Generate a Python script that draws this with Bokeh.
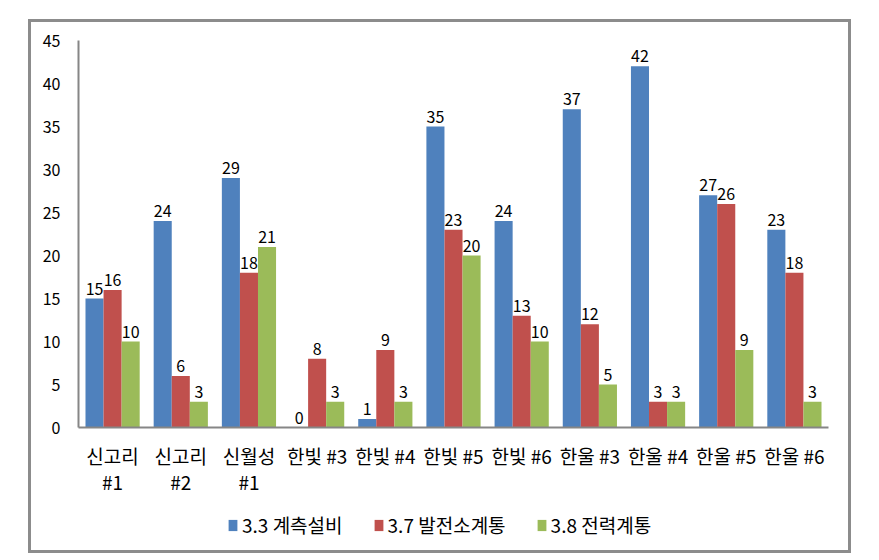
from bokeh.plotting import figure
from bokeh.layouts import column
from bokeh.models import (ColumnDataSource, FactorRange, Range1d, LabelSet, Legend,
                          LegendItem, FixedTicker, InlineStyleSheet)
from bokeh.core.properties import value
from bokeh.transform import dodge
from bokeh.embed import file_html
from bokeh.resources import INLINE

categories = ["신고리\n#1", "신고리\n#2", "신월성\n#1", "한빛 #3", "한빛 #4", "한빛 #5",
              "한빛 #6", "한울 #3", "한울 #4", "한울 #5", "한울 #6"]
s33 = [15, 24, 29, 0, 1, 35, 24, 37, 42, 27, 23]
s37 = [16, 6, 18, 8, 9, 23, 13, 12, 3, 26, 18]
s38 = [10, 3, 21, 3, 3, 20, 10, 5, 3, 9, 3]
series_names = ["3.3 계측설비", "3.7 발전소계통", "3.8 전력계통"]
colors = ["#4F81BD", "#C0504D", "#9BBB59"]
y_ticks = [0, 5, 10, 15, 20, 25, 30, 35, 40, 45]

FONT = "Noto Sans CJK KR"

src = ColumnDataSource(dict(
    cat=categories,
    s33=s33, s37=s37, s38=s38,
    s33t=[str(v) for v in s33], s37t=[str(v) for v in s37], s38t=[str(v) for v in s38],
))

frame_css = InlineStyleSheet(css="""
:host { position: relative; }
:host::after {
  content: '';
  position: absolute;
  left: 28px; top: 19px; width: 823px; height: 534px;
  border: 3px solid #8c8c8c;
  box-sizing: border-box;
  pointer-events: none;
  z-index: 10;
}
""")

xr = FactorRange(factors=categories, range_padding=0)
p = figure(width=879, height=500, x_range=xr,
           y_range=Range1d(0, 45), output_backend="svg", toolbar_location=None,
           min_border_left=78, min_border_right=51, min_border_top=40, min_border_bottom=73)
p.outline_line_color = None
p.xgrid.grid_line_color = None
p.ygrid.grid_line_color = None

# legend strip below the chart (legend-only renderers, not drawn)
lf = figure(width=879, height=60, output_backend="svg", toolbar_location=None,
            x_axis_type=None, y_axis_type=None, x_range=xr, y_range=Range1d(-1000, -999),
            min_border=0, min_border_left=0, min_border_right=0,
            min_border_top=0, min_border_bottom=0)
lf.outline_line_color = None
lf.xgrid.visible = False
lf.ygrid.visible = False

bw = 0.265
offsets = [-bw, 0.0, bw]
keys = ["s33", "s37", "s38"]
leg_renderers = []
for key, off, col in zip(keys, offsets, colors):
    p.vbar(x=dodge("cat", off, range=xr), top=key, width=bw, source=src,
           fill_color=col, line_color=None)
    lbl = LabelSet(x=dodge("cat", off, range=xr), y=key, text=key + "t", source=src,
                   text_align="center", text_baseline="bottom", y_offset=4,
                   text_font_size=value("16px"), text_font=value(FONT),
                   text_color=value("#000000"))
    p.add_layout(lbl)
    r = lf.vbar(x=dodge("cat", off, range=xr), top=key, width=bw, source=src,
                fill_color=col, line_color=None, visible=False)
    leg_renderers.append(r)

for ax in (p.xaxis[0], p.yaxis[0]):
    ax.axis_line_color = "#868686"
    ax.axis_line_width = 2
    ax.major_tick_line_color = None
    ax.minor_tick_line_color = None
    ax.major_tick_out = 0
    ax.major_tick_in = 0
    ax.major_label_text_font = FONT
    ax.major_label_text_color = "#000000"

p.yaxis.ticker = FixedTicker(ticks=y_ticks)
p.yaxis.major_label_text_font_size = "16px"
p.yaxis.major_label_standoff = 18
p.xaxis.major_label_text_font_size = "19px"
p.xaxis.major_label_standoff = 14
p.xaxis.major_label_text_line_height = 0.97

legend = Legend(items=[LegendItem(label=n, renderers=[r]) for n, r in zip(series_names, leg_renderers)],
                orientation="horizontal", location=(149, 22),
                glyph_width=11, glyph_height=14, spacing=30, label_standoff=4,
                label_text_font=FONT, label_text_font_size="19px", label_text_color="#000000",
                border_line_color=None, background_fill_alpha=0, margin=0, padding=3,
                inactive_fill_alpha=0)
lf.add_layout(legend)

layout = column(p, lf, spacing=0, stylesheets=[frame_css])

open("out.html", "w").write(file_html(layout, INLINE))
